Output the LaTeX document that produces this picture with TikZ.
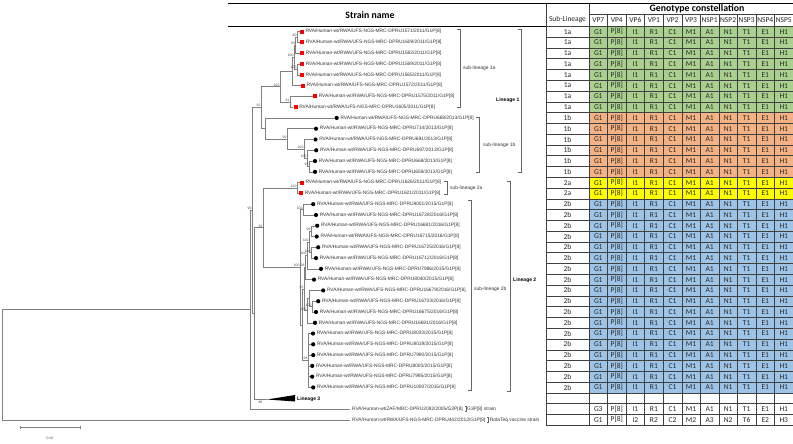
\documentclass[tikz,border=0pt]{standalone}
\usepackage{fontspec}
\setmainfont{Carlito}
\newfontfamily\arl{Liberation Sans}
\usetikzlibrary{calc}
\definecolor{cgreen}{HTML}{A9D08E}
\definecolor{corange}{HTML}{F4B183}
\definecolor{cyellow}{HTML}{FFFF00}
\definecolor{cblue}{HTML}{9DC3E6}
\begin{document}
\begin{tikzpicture}[x=1pt,y=-1pt,
 br/.style={draw=black!50,line width=0.45pt},
 tipname/.style={anchor=west,inner sep=0pt,font=\arl\fontsize{4.85}{5.3}\selectfont,text=black!80},
 bs/.style={anchor=south east,inner sep=0.3pt,font=\arl\fontsize{3.4}{3.6}\selectfont,text=black!70},
 brk/.style={draw=black!60,line width=0.4pt},
 brklab/.style={anchor=west,inner sep=0pt,font=\arl\fontsize{4.9}{5.4}\selectfont,text=black!80},
 linlab/.style={inner sep=0pt,font=\arl\bfseries\fontsize{5}{6}\selectfont},
 cell/.style={inner sep=0pt,font=\fontsize{7.5}{8}\selectfont,text=black!85},
 hdr/.style={inner sep=0pt,font=\bfseries\fontsize{9.8}{11}\selectfont},
 gridl/.style={draw=black!75,line width=0.4pt},
]
\useasboundingbox (0,0) rectangle (793,444);
% ---------------- table fills
\fill[cgreen] (589,26.31) rectangle (792.5,112.55);
\fill[corange] (589,112.55) rectangle (792.5,177.23);
\fill[cyellow] (589,177.23) rectangle (792.5,198.79);
\fill[cblue] (589,198.79) rectangle (792.5,392.83);
% grid
\foreach \k in {0,...,37} \draw[gridl] (546,{26.31+10.78*\k}) -- (792.5,{26.31+10.78*\k});
\draw[gridl] (589,13.8) -- (792.5,13.8);
\draw[gridl] (546,3) -- (546,425.17);
\draw[gridl] (589,3) -- (589,425.17);
\foreach \k in {1,...,11} \draw[gridl] ({589+18.55*\k},13.8) -- ({589+18.55*\k},425.17);
\draw[black,line width=0.9pt] (228,3) -- (792.5,3);
\draw[black,line width=0.7pt] (228,26.31) -- (546,26.31);
% headers
\node[hdr] (hstrain) at (370,15) {Strain name};
\node[hdr] (hgeno) at (697,8.4) {Genotype constellation};
\node[cell] (hsub) at (567.5,20) {Sub-Lineage};
\foreach \g [count=\k from 0] in {VP7,VP4,VP6,VP1,VP2,VP3,NSP1,NSP2,NSP3,NSP4,NSP5}
  \node[cell] (hc\k) at ({589+18.55*(\k+0.5)},20) {\g};
% cells
\foreach \g [count=\k from 0] in {G1,{P[8]},I1,R1,C1,M1,A1,N1,T1,E1,H1}
  \foreach \i in {0,...,33}
    \node[cell] (c\k-\i) at ({589+18.55*(\k+0.5)},{31.7+10.78*\i}) {\g};
\foreach \g [count=\k from 0] in {G3,{P[8]},I1,R1,C1,M1,A1,N1,T1,E1,H1}
  \node[cell] (c\k-35) at ({589+18.55*(\k+0.5)},{31.7+10.78*35}) {\g};
\foreach \g [count=\k from 0] in {G1,{P[8]},I2,R2,C2,M2,A3,N2,T6,E2,H3}
  \node[cell] (c\k-36) at ({589+18.55*(\k+0.5)},{31.7+10.78*36}) {\g};
\foreach \i in {0,...,7} \node[cell] (s\i) at (567.5,{31.7+10.78*\i}) {1a};
\foreach \i in {8,...,13} \node[cell] (s\i) at (567.5,{31.7+10.78*\i}) {1b};
\foreach \i in {14,15} \node[cell] (s\i) at (567.5,{31.7+10.78*\i}) {2a};
\foreach \i in {16,...,33} \node[cell] (s\i) at (567.5,{31.7+10.78*\i}) {2b};
% ---------------- tips
\foreach \i/\x/\num/\yr in {0/299.5/1571/2011,1/300/1609/2011,2/299.8/1582/2011,3/299.8/1569/2011,4/299.5/1565/2011,5/300.5/1572/2011,6/312.8/1575/2011,7/293.3/1605/2011,14/299.5/1626/2011,15/298.8/1621/2011}{
  \coordinate (t\i) at (\x,{31.7+10.78*\i});
  \fill[red] (\x+0.3,{31.7+10.78*\i-2}) rectangle ++(4,4);
  \node[tipname] (n\i) at (\x+5.8,{31.7+10.78*\i}) {RVA/Human-wt/RWA/UFS-NGS-MRC-DPRU\num/\yr/G1P[8]};
}
\foreach \i/\x/\num/\yr in {8/334.5/669/2013,9/313.8/714/2013,10/313.3/691/2013,11/314/697/2013,12/312.8/668/2013,13/312.8/659/2013,
  16/311/8001/2015,17/313.8/16728/2016,18/315/16681/2016,19/314.5/16715/2016,20/316/16725/2016,21/313.8/16712/2016,22/318.8/7986/2015,23/311.8/8040/2015,24/321/16679/2016,25/316/16703/2016,26/313.8/16675/2016,27/312.8/16691/2016,28/310.8/8033/2015,29/311/8019/2015,30/311/7990/2015,31/310/8000/2015,32/310/7995/2015,33/311/10007/2015}{
  \coordinate (t\i) at (\x,{31.7+10.78*\i});
  \fill[black] (\x+2.2,{31.7+10.78*\i}) circle (2.1);
  \node[tipname] (n\i) at (\x+5.8,{31.7+10.78*\i}) {RVA/Human-wt/RWA/UFS-NGS-MRC-DPRU\num/\yr/G1P[8]};
}
\coordinate (t34) at (267,399.5);
\coordinate (t35) at (350,409);
\coordinate (t36) at (350,419.78);
\node[tipname] (n35) at (352,409) {RVA/Human-wt/ZAF/MRC-DPRU2082/2005/G3P[8]};
\node[tipname] (n36) at (352,419.78) {RVA/Human-wt/RWA/UFS-NGS-MRC-DPRU442/2012/G1P[8]};
% ---------------- internal nodes
\coordinate (a1) at (297,37.09);
\coordinate (a2) at (295.5,45.18);
\coordinate (a3) at (297,69.43);
\coordinate (a4) at (294,57.30);
\coordinate (a5) at (292,71.45);
\coordinate (a6) at (290,101.77);
\coordinate (a7) at (280,86.61);
\coordinate (b1) at (309,166.45);
\coordinate (b2) at (307,158.37);
\coordinate (b3) at (304,148.93);
\coordinate (b4) at (287,138.83);
\coordinate (b5) at (265,128.38);
\coordinate (L1) at (261,107.5);
\coordinate (d1) at (297,188.01);
\coordinate (c1) at (303,209.57);
\coordinate (c2) at (311,231.13);
\coordinate (c3) at (311,252.69);
\coordinate (c4) at (309,241.91);
\coordinate (c5) at (307,255.39);
\coordinate (c6) at (305,267.51);
\coordinate (c7) at (312,306.59);
\coordinate (c8) at (309,298.5);
\coordinate (c9) at (307,310.63);
\coordinate (c10) at (304,289.07);
\coordinate (c11) at (308,360.49);
\coordinate (c12) at (302,324.78);
\coordinate (c13) at (300,267.18);
\coordinate (L2) at (263,227.6);
\coordinate (N23) at (254,313.0);
\coordinate (NB) at (252,210.2);
\coordinate (NA) at (250,309.6);
\coordinate (root) at (2,364.7);
% edges
\foreach \p/\c in {a1/t0,a1/t1,a2/a1,a2/t2,a3/t3,a3/t4,a4/a2,a4/a3,a5/a4,a5/t5,a6/t6,a6/t7,a7/a5,a7/a6,
  b1/t12,b1/t13,b2/t11,b2/b1,b3/t10,b3/b2,b4/t9,b4/b3,b5/t8,b5/b4,L1/a7,L1/b5,
  d1/t14,d1/t15,c1/t16,c1/t17,c2/t18,c2/t19,c3/t20,c3/t21,c4/c2,c4/c3,c5/c4,c5/t22,c6/c5,c6/t23,
  c7/t25,c7/t26,c8/t24,c8/c7,c9/c8,c9/t27,c10/c6,c10/c9,c11/t28,c11/t29,c11/t30,c11/t31,c11/t32,c11/t33,
  c12/c10,c12/c11,c13/c1,c13/c12,L2/d1,L2/c13,N23/L2,N23/t34,NB/L1,NB/N23,NA/NB,NA/t35,root/NA,root/t36}
  \draw[br] (\p) |- (\c);
% lineage 3 triangle
\fill[black] (t34) -- (295,395) -- (295,401.5) -- cycle;
\node[linlab,anchor=west] (l3) at (297,399) {Lineage 3};
% bootstrap
\foreach \n/\v in {a1/90,a2/99,a3/100,a4/100,a7/100,a6/91,L1/92,b4/99,b3/100,b2/100,b1/95,d1/100,L2/95,NB/96,
  c1/100,c2/99,c4/100,c3/100,c13/100,c5/100,c6/98,c10/93,c7/100,c9/100,c11/98}
  \node[bs] (bs\n) at (\n) {\v};
\node[bs,anchor=north west] (bsL3) at (258,401) {88};
% brackets
\draw[brk] (457,29) -- (460,29) -- (460,107.5) -- (457,107.5);
\node[brklab] (lb1a) at (463,68.5) {sub-lineage 1a};
\draw[brk] (476,117) -- (479,117) -- (479,172) -- (476,172);
\node[brklab] (lb1b) at (483,145) {sub-lineage 1b};
\draw[brk] (518,29) -- (521,29) -- (521,172) -- (518,172);
\node[linlab,anchor=east] (lbL1) at (519.5,100.7) {Lineage 1};
\draw[brk] (444,181) -- (447,181) -- (447,194.5) -- (444,194.5);
\node[brklab] (lb2a) at (450,188.5) {sub-lineage 2a};
\draw[brk] (468,200) -- (471,200) -- (471,390) -- (468,390);
\node[brklab] (lb2b) at (474,289) {sub-lineage 2b};
\draw[brk] (507,181) -- (510,181) -- (510,391) -- (507,391);
\node[linlab,anchor=west] (lbL2) at (513,280) {Lineage 2};
\draw[brk] ($(n35.east)+(1.5,-2.5)$) -- ++(1.5,0) -- ++(0,5) -- ++(-1.5,0);
\node[brklab] (lzaf) at ($(n35.east)+(4,0)$) {G3P[8] strain};
\draw[brk] ($(n36.east)+(1.5,-2.5)$) -- ++(1.5,0) -- ++(0,5) -- ++(-1.5,0);
\node[brklab] (lrt) at ($(n36.east)+(4,0)$) {RotaTeq vaccine strain};
% scale bar
\coordinate (sb1) at (20,427.3);
\coordinate (sb2) at (80.7,427.3);
\draw[br] (sb1) -- (sb2);
\draw[br] (20,426) -- (20,428.6);
\draw[br] (80.7,426) -- (80.7,428.6);
\node[bs,anchor=center] (sblab) at (50,438) {0.02};
\end{tikzpicture}
\end{document}
